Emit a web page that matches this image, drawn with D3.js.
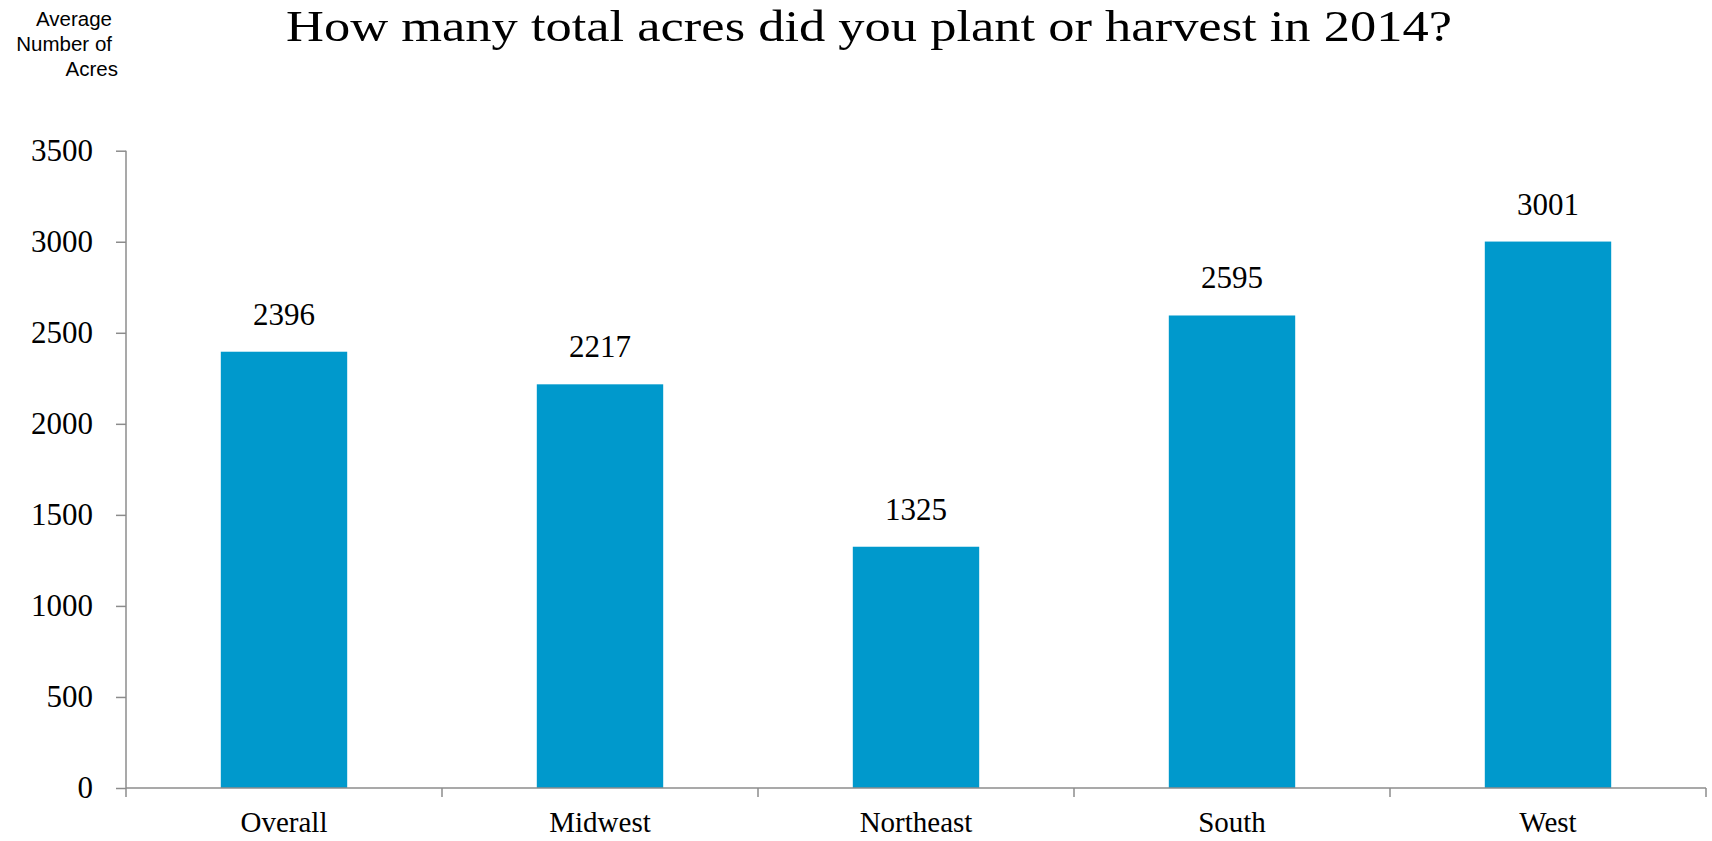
<!DOCTYPE html>
<html>
<head>
<meta charset="utf-8">
<script src="https://cdn.jsdelivr.net/npm/d3@7"></script>
<style>
  html, body { margin: 0; padding: 0; background: #fff; }
  svg { display: block; }
</style>
</head>
<body>
<svg id="chart" width="1712" height="841"></svg>
<script>
const categories = ["Overall", "Midwest", "Northeast", "South", "West"];
const values = [2396, 2217, 1325, 2595, 3001];
const yTicks = [0, 500, 1000, 1500, 2000, 2500, 3000, 3500];
const titleText = "How many total acres did you plant or harvest in 2014?";
const yTitleLines = ["Average", "Number of", "Acres"];

const svg = d3.select("#chart");
const serif = "'Liberation Serif', 'Times New Roman', serif";
const sans = "'Liberation Sans', Arial, sans-serif";
const axisColor = "#8c8c8c";
const barColor = "#0099cc";

const mLeft = 126, mRight = 1706, mTop = 150.7, mBottom = 788;

const x = d3.scaleBand().domain(categories).range([mLeft, mRight]).paddingInner(0.6).paddingOuter(0.3);
const xb = d3.scaleBand().domain(categories).range([mLeft, mRight]).padding(0);
const y = d3.scaleLinear().domain([0, 3500]).range([mBottom, mTop]);

// Title
svg.append("text")
  .attr("x", 286).attr("y", 41)
  .attr("textLength", 1166).attr("lengthAdjust", "spacingAndGlyphs")
  .style("font-family", serif).style("font-size", "45px").attr("fill", "#000")
  .text(titleText);

// Y title
const yTitleX = [112, 112, 118];
yTitleLines.forEach((t, i) => {
  svg.append("text")
    .attr("x", yTitleX[i]).attr("y", 26 + i * 25)
    .attr("text-anchor", "end")
    .style("font-family", sans).style("font-size", "20.5px").attr("fill", "#000")
    .text(t);
});

// Bars
svg.append("g").selectAll("rect").data(values).join("rect")
  .attr("x", (d, i) => x(categories[i]))
  .attr("width", x.bandwidth())
  .attr("y", d => y(d))
  .attr("height", d => y(0) - y(d))
  .attr("fill", barColor);

// Bar labels
svg.append("g").selectAll("text").data(values).join("text")
  .attr("x", (d, i) => x(categories[i]) + x.bandwidth() / 2)
  .attr("y", d => y(d) - 27)
  .attr("text-anchor", "middle")
  .style("font-family", serif).style("font-size", "31px").attr("fill", "#000")
  .text(d => d);

// Y axis
const yAxis = svg.append("g").attr("transform", `translate(${mLeft},0)`)
  .call(d3.axisLeft(y).tickValues(yTicks).tickFormat(d3.format("d"))
    .tickSize(10).tickPadding(23).tickSizeOuter(0));
yAxis.select(".domain").remove();
yAxis.selectAll(".tick line").attr("stroke", axisColor).attr("stroke-width", 1.5);
yAxis.selectAll(".tick text")
  .style("font-family", serif).style("font-size", "31px").attr("fill", "#000");
svg.append("line")
  .attr("x1", mLeft).attr("x2", mLeft).attr("y1", mTop).attr("y2", mBottom + 9)
  .attr("stroke", axisColor).attr("stroke-width", 1.5);

// X axis
svg.append("line")
  .attr("x1", mLeft).attr("x2", mRight).attr("y1", mBottom).attr("y2", mBottom)
  .attr("stroke", axisColor).attr("stroke-width", 1.5);
const boundaries = categories.slice(1).map(c => xb(c)).concat([xb.range()[1]]);
svg.append("g").selectAll("line").data(boundaries).join("line")
  .attr("x1", d => d).attr("x2", d => d)
  .attr("y1", mBottom).attr("y2", mBottom + 9)
  .attr("stroke", axisColor).attr("stroke-width", 1.5);

// Category labels
svg.append("g").selectAll("text").data(categories).join("text")
  .attr("x", d => xb(d) + xb.bandwidth() / 2)
  .attr("y", 832)
  .attr("text-anchor", "middle")
  .style("font-family", serif).style("font-size", "29px").attr("fill", "#000")
  .text(d => d);
</script>
</body>
</html>
